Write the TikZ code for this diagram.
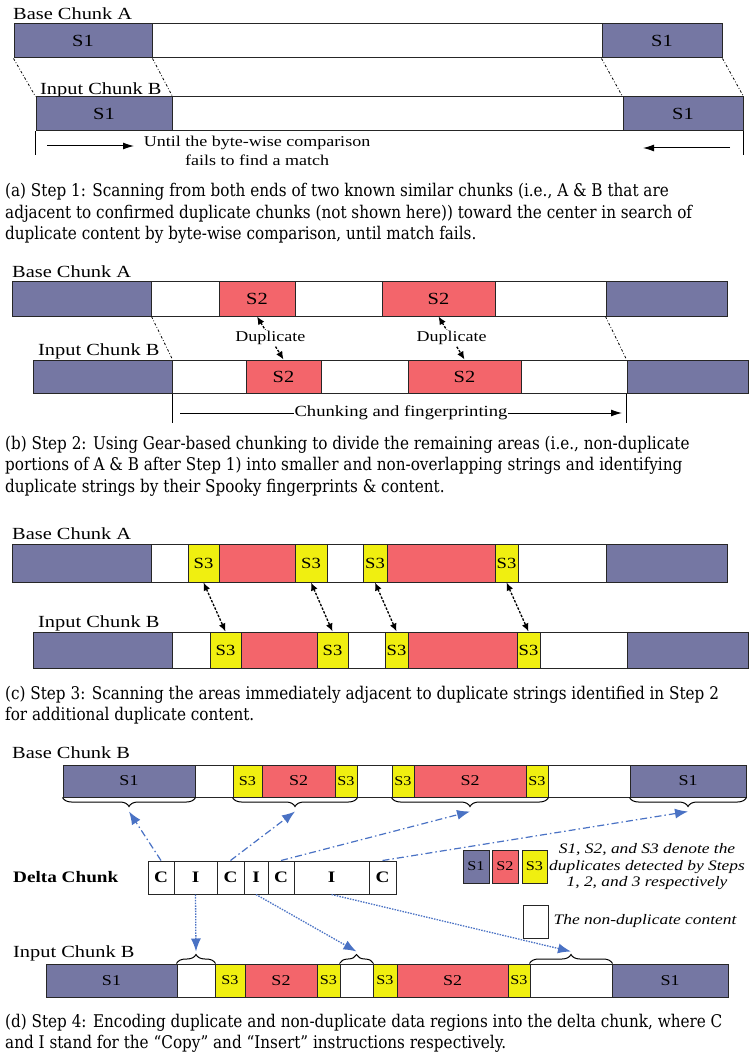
\documentclass[tikz,border=0pt]{standalone}
\usepackage{fontspec}
\usetikzlibrary{arrows.meta,decorations.pathreplacing}
\newfontfamily\figfont[FakeStretch=1.2]{Liberation Serif}
\newfontfamily\capfont[FakeStretch=0.87]{DejaVu Serif}
\definecolor{sonecol}{HTML}{7577A3}
\definecolor{stwocol}{HTML}{F3656B}
\definecolor{sthreecol}{HTML}{F0EF10}
\definecolor{arrcol}{HTML}{4A72C4}
\tikzset{
  seg/.style={draw=black!85, line width=1pt, inner sep=0pt, minimum height=#1pt},
  sone/.style={fill=sonecol},
  stwo/.style={fill=stwocol},
  sthree/.style={fill=sthreecol},
  gap/.style={fill=white},
  lbl/.style={font=\figfont\fontsize{17}{18}\selectfont, anchor=base west, inner sep=0pt},
  txt/.style={font=\figfont\fontsize{15}{16}\selectfont, inner sep=0pt},
  match/.style={dash pattern=on 2.5pt off 2pt on 0.8pt off 2pt, line width=0.8pt},
  dup/.style={{Latex[length=8pt,width=7pt]}-{Latex[length=8pt,width=7pt]}, line width=1.3pt, dash pattern=on 2.5pt off 1.5pt},
  copyarr/.style={-{Latex[length=13pt,width=10pt]}, arrcol, line width=1.2pt, dash pattern=on 7pt off 3pt on 1.5pt off 3pt},
  insarr/.style={-{Latex[length=13pt,width=10pt]}, arrcol, line width=1.3pt, dash pattern=on 1.5pt off 1.2pt},
  scan/.style={-{Latex[length=11pt,width=7pt]}, line width=1pt},
  brcdown/.style={decorate, decoration={brace, mirror, amplitude=9pt}, line width=1pt},
  brcup/.style={decorate, decoration={brace, amplitude=9pt}, line width=1pt},
  caption/.style={font=\capfont\fontsize{17.5}{21.5}\selectfont, anchor=base west, inner sep=0pt},
}
% one chunk: name prefix, top, height, segments x1/x2/kind/label
\newcommand{\chunkbar}[4]{%
  \foreach \xa/\xb/\kind/\txt [count=\i] in {#4}{
    \node[seg=#3, \kind, minimum width={(\xb-\xa)*1pt}] (#1\i) at ({(\xa+\xb)/2},{#2+#3/2}) {\txt};
  }}

\begin{document}
\begin{tikzpicture}[x=1pt,y=-1pt]
  \useasboundingbox (0,0) rectangle (755,1056);

  % (a)
  \begin{scope}[font=\figfont\fontsize{17}{18}\selectfont]
    \node[lbl] (baseA) at (13,20) {Base Chunk A};
    \chunkbar{aT}{24}{34}{14/152/sone/S1, 152/602/gap/{}, 602/722/sone/S1}
    \node[lbl] (inA) at (40,95) {Input Chunk B};
    \chunkbar{aB}{97}{34}{36/172/sone/S1, 172/623/gap/{}, 623/743/sone/S1}
    \draw[match] (aT1.south west) -- (aB1.north west);
    \draw[match] (aT1.south east) -- (aB1.north east);
    \draw[match] (aT3.south west) -- (aB3.north west);
    \draw[match] (aT3.south east) -- (aB3.north east);
    \draw[line width=1pt] (aB1.south west) -- ++(0,24);
    \draw[line width=1pt] (aB3.south east) -- ++(0,24);
    \node[txt] (until1) at (257,143) {Until the byte-wise comparison};
    \node[txt] (until2) at (257,160) {fails to find a match};
    \draw[scan] (47,146) -- (134,146);
    \draw[scan] (730,148) -- (643,148);
  \end{scope}
  \foreach \t [count=\i] in {{(a) Step 1: Scanning from both ends of two known similar chunks (i.e., A \& B that are},
      {adjacent to confirmed duplicate chunks (not shown here)) toward the center in search of},
      {duplicate content by byte-wise comparison, until match fails.}}
    \node[caption] (capa\i) at (5,{197+21.5*(\i-1)}) {\t};

  % (b)
  \begin{scope}[font=\figfont\fontsize{17}{18}\selectfont]
    \node[lbl] (baseB) at (12,278) {Base Chunk A};
    \chunkbar{bT}{282}{34}{12/151/sone/{}, 151/219/gap/{}, 219/295/stwo/S2, 295/382/gap/{}, 382/495/stwo/S2, 495/606/gap/{}, 606/727/sone/{}}
    \node[lbl] (inB) at (38,355) {Input Chunk B};
    \chunkbar{bB}{360}{33}{33/172/sone/{}, 172/246/gap/{}, 246/321/stwo/S2, 321/408/gap/{}, 408/521/stwo/S2, 521/627/gap/{}, 627/748/sone/{}}
    \draw[match] (bT1.south east) -- (bB1.north east);
    \draw[match] (bT7.south west) -- (bB7.north west);
    \draw[dup] (bT3.south) -- node[txt, fill=white, inner sep=1pt] {Duplicate} (bB3.north);
    \draw[dup] (bT5.south) -- node[txt, fill=white, inner sep=1pt] {Duplicate} (bB5.north);
    \draw[line width=1pt] (bB1.south east) -- ++(0,29);
    \draw[line width=1pt] (bB7.south west) -- ++(0,29);
    \draw[scan] (180,413) -- node[txt, fill=white, inner sep=1pt, font=\figfont\fontsize{15.5}{16}\selectfont] {Chunking and fingerprinting} (622,413);
  \end{scope}
  \foreach \t [count=\i] in {{(b) Step 2: Using Gear-based chunking to divide the remaining areas (i.e., non-duplicate},
      {portions of A \& B after Step 1) into smaller and non-overlapping strings and identifying},
      {duplicate strings by their Spooky fingerprints \& content.}}
    \node[caption] (capb\i) at (5,{449+21.5*(\i-1)}) {\t};

  % (c)
  \begin{scope}[font=\figfont\fontsize{15.5}{16}\selectfont]
    \node[lbl] (baseC) at (12,539) {Base Chunk A};
    \chunkbar{cT}{544}{38}{12/151/sone/{}, 151/188/gap/{}, 188/219/sthree/S3, 219/295/stwo/{}, 295/327/sthree/S3, 327/363/gap/{}, 363/387/sthree/S3, 387/495/stwo/{}, 495/518/sthree/S3, 518/606/gap/{}, 606/727/sone/{}}
    \node[lbl] (inC) at (38,627) {Input Chunk B};
    \chunkbar{cB}{632}{36}{33/172/sone/{}, 172/210/gap/{}, 210/241/sthree/S3, 241/317/stwo/{}, 317/348/sthree/S3, 348/385/gap/{}, 385/408/sthree/S3, 408/517/stwo/{}, 517/540/sthree/S3, 540/627/gap/{}, 627/748/sone/{}}
    \foreach \k in {3,5,7,9}
      \draw[dup] (cT\k.south) -- (cB\k.north);
  \end{scope}
  \foreach \t [count=\i] in {{(c) Step 3: Scanning the areas immediately adjacent to duplicate strings identified in Step 2},
      {for additional duplicate content.}}
    \node[caption] (capc\i) at (5,{699+21.5*(\i-1)}) {\t};

  % (d)
  \begin{scope}[font=\figfont\fontsize{15}{16}\selectfont,
      sthree/.append style={font=\figfont\fontsize{13.5}{14}\selectfont}]
    \node[lbl] (baseD) at (12,758) {Base Chunk B};
    \chunkbar{dT}{765}{32}{63/195/sone/S1, 195/233/gap/{}, 233/262/sthree/S3, 262/335/stwo/S2, 335/357/sthree/S3, 357/392/gap/{}, 392/414/sthree/S3, 414/526/stwo/S2, 526/548/sthree/S3, 548/630/gap/{}, 630/746/sone/S1}
    \foreach \p/\q [count=\k] in {1/1, 3/5, 7/9, 11/11}
      \draw[brcdown] (dT\p.south west) -- coordinate[midway, yshift=-14pt] (tb\k) (dT\q.south east);

    \node[anchor=west, inner sep=0pt, font=\figfont\bfseries\fontsize{16}{16}\selectfont] (deltalbl) at (13,877) {Delta Chunk};
    \begin{scope}[font=\figfont\bfseries\fontsize{16}{16}\selectfont]
      \chunkbar{dc}{861}{33}{148/174/gap/C, 174/217/gap/I, 217/244/gap/C, 244/268/gap/I, 268/294/gap/C, 294/369/gap/I, 369/396/gap/C}
    \end{scope}

    \node[lbl] (inD) at (13,957) {Input Chunk B};
    \chunkbar{dB}{964}{33}{46/177/sone/S1, 177/215/gap/{}, 215/245/sthree/S3, 245/317/stwo/S2, 317/340/sthree/S3, 340/373/gap/{}, 373/397/sthree/S3, 397/508/stwo/S2, 508/530/sthree/S3, 530/612/gap/{}, 612/728/sone/S1}
    \foreach \p [count=\k] in {2,6,10}
      \draw[brcup] (dB\p.north west) -- coordinate[midway, yshift=12pt] (tn\k) (dB\p.north east);

    \draw[copyarr] (dc1.north) -- (tb1);
    \draw[copyarr] (dc3.north) -- (tb2);
    \draw[copyarr] (dc5.north) -- (tb3);
    \draw[copyarr] (dc7.north) -- (tb4);
    \draw[insarr] (dc2.south) -- (tn1);
    \draw[insarr] (dc4.south) -- (tn2);
    \draw[insarr] (dc6.south) -- (tn3);

    % legend
    \node[seg=33, sone, minimum width=26pt, font=\figfont\fontsize{13.5}{14}\selectfont] (lgone) at (476,866.5) {S1};
    \node[seg=33, stwo, minimum width=26pt, font=\figfont\fontsize{13.5}{14}\selectfont] (lgtwo) at (505,866.5) {S2};
    \node[seg=33, sthree, minimum width=25pt] (lgthree) at (534.5,866.5) {S3};
    \node[align=center, inner sep=0pt, font=\figfont\itshape\fontsize{14.5}{16.5}\selectfont] (lgtext) at (647,867)
      {S1, S2, and S3 denote the\\duplicates detected by Steps\\1, 2, and 3 respectively};
    \node[seg=33, gap, minimum width=25pt] (lgnd) at (535.5,921.5) {};
    \node[anchor=west, inner sep=0pt, xshift=5pt, font=\figfont\itshape\fontsize{14.5}{16}\selectfont] (lgndtext) at (lgnd.east) {The non-duplicate content};
  \end{scope}
  \foreach \t [count=\i] in {{(d) Step 4: Encoding duplicate and non-duplicate data regions into the delta chunk, where C},
      {and I stand for the “Copy” and “Insert” instructions respectively.}}
    \node[caption] (capd\i) at (5,{1027+21.5*(\i-1)}) {\t};
\end{tikzpicture}
\end{document}
